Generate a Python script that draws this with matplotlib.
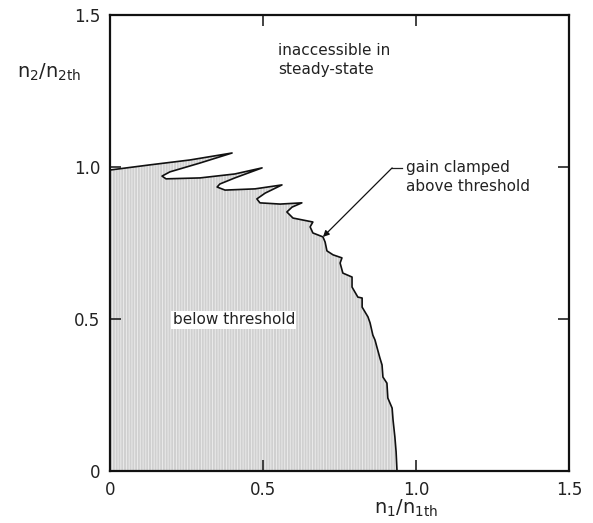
import matplotlib
matplotlib.use('Agg')
import matplotlib.pyplot as plt

# boundary of the below-threshold region (n1/n1th, n2/n2th)
curve_x = [0.000, 0.131, 0.261, 0.399, 0.294, 0.196, 0.170, 0.183, 0.294, 0.408,
           0.497, 0.408, 0.359, 0.350, 0.376, 0.474, 0.562, 0.507, 0.480, 0.490,
           0.556, 0.627, 0.595, 0.578, 0.598, 0.663, 0.654, 0.663, 0.696, 0.703,
           0.709, 0.729, 0.758, 0.752, 0.761, 0.791, 0.791, 0.810, 0.824, 0.824,
           0.843, 0.850, 0.859, 0.866, 0.873, 0.882, 0.889, 0.892, 0.905, 0.908,
           0.922, 0.925, 0.931, 0.935, 0.938]
curve_y = [0.990, 1.007, 1.023, 1.046, 1.013, 0.984, 0.970, 0.961, 0.964, 0.977,
           0.997, 0.964, 0.944, 0.934, 0.924, 0.928, 0.941, 0.914, 0.895, 0.882,
           0.878, 0.882, 0.868, 0.852, 0.832, 0.819, 0.803, 0.783, 0.770, 0.753,
           0.724, 0.711, 0.701, 0.684, 0.651, 0.638, 0.605, 0.572, 0.569, 0.539,
           0.507, 0.487, 0.447, 0.431, 0.405, 0.372, 0.349, 0.309, 0.289, 0.240,
           0.207, 0.168, 0.112, 0.063, 0.000]

ticks = [0, 0.5, 1.0, 1.5]
tick_labels = ['0', '0.5', '1.0', '1.5']

fig = plt.figure(figsize=(5.93, 5.23), dpi=100)
ax = fig.add_axes([0.1855, 0.0994, 0.774, 0.872])

# shaded region, fine vertical screen like the printed original
plt.rcParams['hatch.linewidth'] = 0.6
ax.fill(curve_x + [0.0], curve_y + [0.0], facecolor='#d0d0d0',
        edgecolor='#eeeeee', hatch='||||||', linewidth=0)
ax.plot(curve_x, curve_y, color='#111111', lw=1.2)

ax.set_xlim(0, 1.5)
ax.set_ylim(0, 1.5)
ax.set_xticks(ticks)
ax.set_yticks(ticks)
ax.set_xticklabels(tick_labels)
ax.set_yticklabels(tick_labels)
ax.tick_params(direction='in', length=8, width=1.2, top=True, right=True,
               labelsize=12, colors='#222222', pad=7)
for s in ax.spines.values():
    s.set_linewidth(1.6)
    s.set_color('#111111')

ax.text(0.549, 1.352, 'inaccessible in\nsteady-state', fontsize=11,
        ha='left', va='center', linespacing=1.35, color='#222222')
ax.text(0.405, 0.497, 'below threshold', fontsize=11, ha='center', va='center',
        color='#222222', bbox=dict(facecolor='white', edgecolor='none', pad=1))
ax.text(0.967, 0.967, 'gain clamped\nabove threshold', fontsize=11,
        ha='left', va='center', linespacing=1.3, color='#222222')
ax.plot([0.922, 0.954], [0.997, 0.997], color='#222222', lw=0.9)
ax.annotate('', xy=(0.696, 0.770), xytext=(0.922, 0.997),
            arrowprops=dict(arrowstyle='-|>', color='#111111', lw=0.9,
                            mutation_scale=9, shrinkA=0, shrinkB=0))

fig.text(17 / 593, 1 - 72 / 523, r'n$_2$/n$_{2\mathrm{th}}$', fontsize=14,
         ha='left', va='center', color='#222222')
fig.text(406 / 593, 1 - 508 / 523, r'n$_1$/n$_{1\mathrm{th}}$', fontsize=14,
         ha='center', va='center', color='#222222')

fig.savefig('out.png', dpi=100)
